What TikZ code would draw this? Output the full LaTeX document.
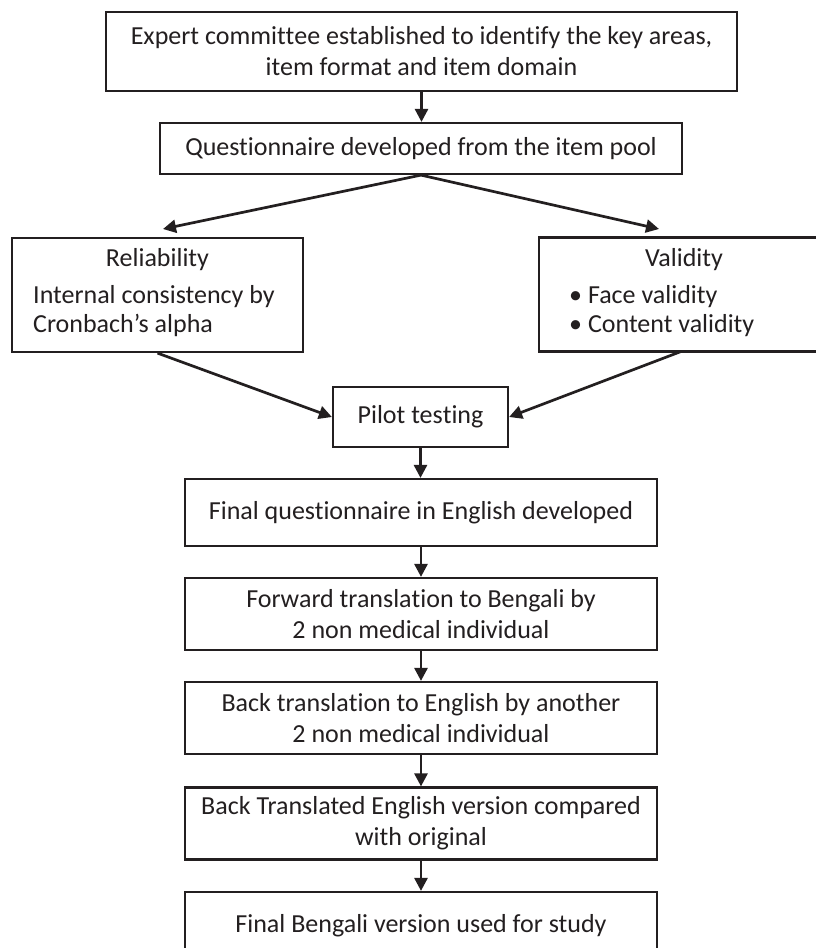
\documentclass[tikz,border=0pt]{standalone}
\usepackage{fontspec}
\setmainfont{Carlito}[RawFeature={-liga;-clig;-calt;-dlig}]
\usetikzlibrary{arrows.meta}
\definecolor{ink}{HTML}{231F20}
\newcommand{\nlg}{\kern0pt}
\begin{document}
\begin{tikzpicture}[x=1pt,y=-1pt,
  box/.style={draw=ink, line width=2.2pt, rectangle, inner sep=0pt, text=ink, align=center, font=\fontsize{26}{31}\selectfont},
  txt/.style={inner sep=0pt, text=ink, font=\fontsize{26}{29}\selectfont},
  arr/.style={draw=ink, line width=2.7pt, -{Triangle[length=13pt,width=13pt]}}]
\useasboundingbox (0,0) rectangle (816,948);
\fill[white] (0,0) rectangle (816,948);

\node[box, minimum width=631pt, minimum height=79pt] (b1) at (421.5,51.5) {Expert commit\nlg t\nlg ee established to iden\nlg t\nlg ify the key areas,\\item format and item domain};
\node[box, minimum width=522pt, minimum height=51pt] (b2) at (421,148.5) {Questionnaire developed from the item pool};

\node[box, minimum width=291pt, minimum height=114pt] (rel) at (157.5,295) {};
\node[txt] (relt) at (157.5,260) {Reliability};
\node[txt, align=left, anchor=west] (reld) at (33,311) {Internal consistency by\\Cronbach’s alpha};

\node[box, minimum width=330pt, minimum height=114pt] (val) at (704,294.5) {};
\node[txt] (valt) at (684,260) {Validity};
\node[txt, align=left, anchor=west] (vald) at (569,311) {• Face validity\\• Content validity};

\node[box, minimum width=175pt, minimum height=60pt] (pilot) at (420.5,417) {Pilot tes\nlg t\nlg ing};

\node[box, minimum width=472pt, minimum height=67pt] (b6) at (421,512.5) {Final questionnaire in English developed};
\node[box, minimum width=472pt, minimum height=72pt] (b7) at (421,614) {Forward transla\nlg t\nlg ion to Bengali by\\2 non medical individual};
\node[box, minimum width=472pt, minimum height=72pt] (b8) at (421,718) {Back transla\nlg t\nlg ion to English by another\\2 non medical individual};
\node[box, minimum width=472pt, minimum height=72pt] (b9) at (421,823.5) {Back Translated English version compared\\with original};
\node[box, minimum width=472pt, minimum height=67pt] (b10) at (421,925.5) {Final Bengali version used for study};

\coordinate (relin) at (163,229);
\coordinate (valin) at (659,229);
\coordinate (valout) at (681,351.5);

\draw[arr] (b1.south) -- (b1.south |- b2.north);
\draw[arr] (b2.south) -- (relin);
\draw[arr] (b2.south) -- (valin);
\draw[arr] (rel.south) -- (pilot.west);
\draw[arr] (valout) -- (pilot.east);
\draw[arr] (pilot.south) -- (pilot.south |- b6.north);
\draw[arr] (b6) -- (b7);
\draw[arr] (b7) -- (b8);
\draw[arr] (b8) -- (b9);
\draw[arr] (b9) -- (b10);
\end{tikzpicture}
\end{document}
